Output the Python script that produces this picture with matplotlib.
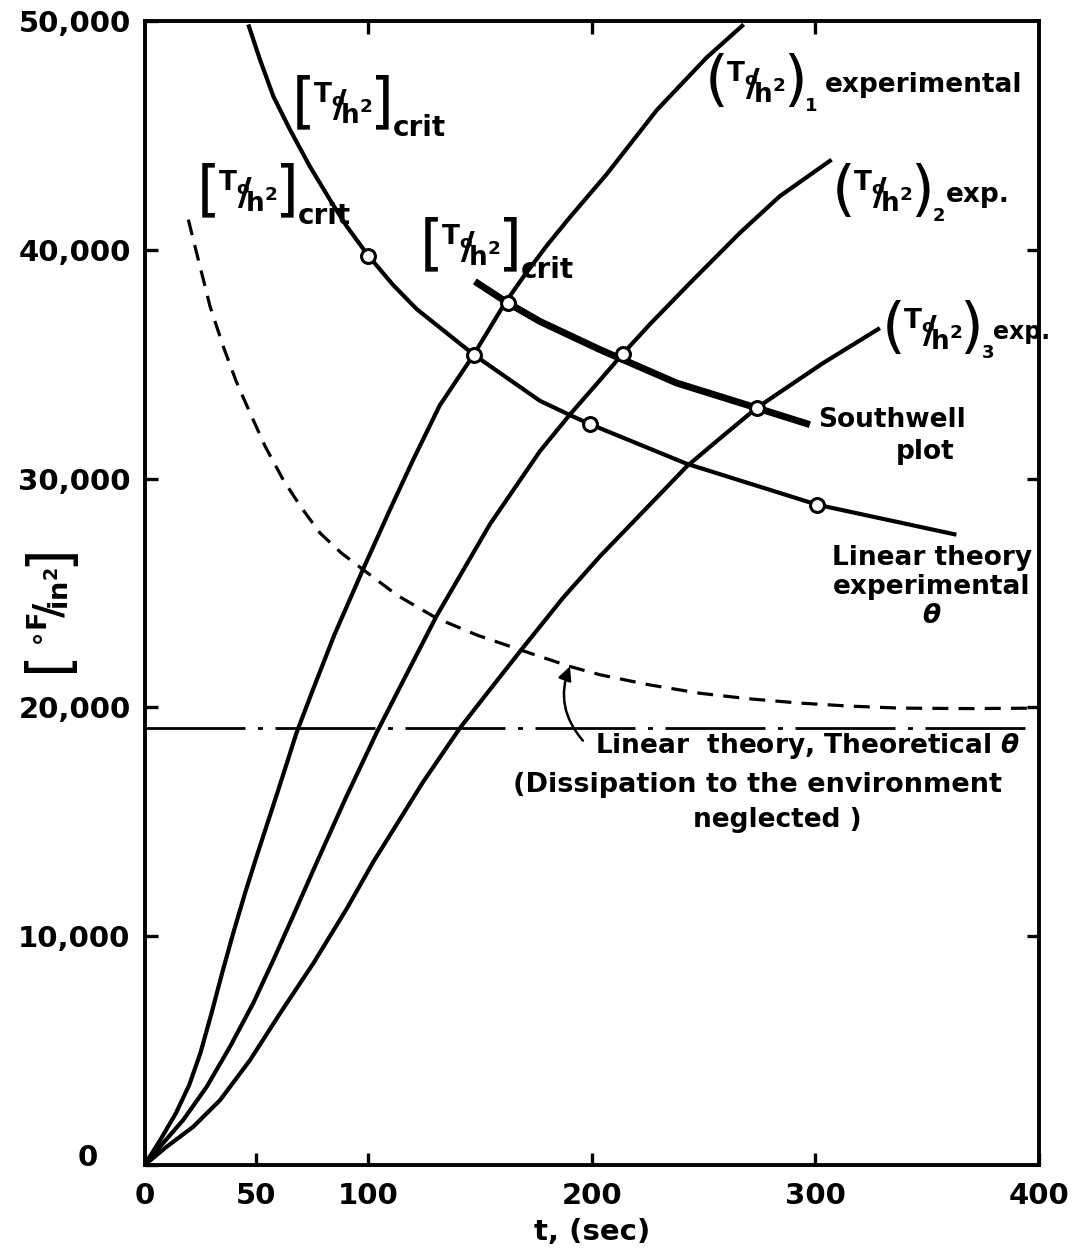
import matplotlib
matplotlib.use("Agg")
import matplotlib.pyplot as plt
from matplotlib.ticker import FuncFormatter

plt.rcParams['font.family'] = ['DejaVu Sans']
plt.rcParams['font.weight'] = 'bold'
plt.rcParams['mathtext.fontset'] = 'custom'
plt.rcParams['mathtext.rm'] = 'DejaVu Sans:bold'
plt.rcParams['mathtext.bf'] = 'DejaVu Sans:bold'
plt.rcParams['mathtext.it'] = 'DejaVu Sans:italic:bold'
plt.rcParams['mathtext.default'] = 'rm'

# (T0/h^2) experimental curves, t in sec, value in deg F / in^2
t_exp1 = [0, 7, 14, 20, 25, 30, 35, 40, 45, 50, 55, 60, 68, 75, 85, 98, 110, 120,
          132, 147.2, 161.2, 170, 180, 190, 206.6, 229, 251.3, 267.9]
v_exp1 = [0, 1090, 2260, 3500, 4900, 6650, 8500, 10250, 11900, 13450, 14950, 16450,
          18900, 20700, 23200, 26100, 28700, 30800, 33200, 35420, 37680, 38900, 40200,
          41400, 43300, 46100, 48400, 49850]

t_exp2 = [0, 6.9, 17.3, 27.8, 38.2, 48.6, 57.6, 66.5, 76.2, 90, 103.8, 112.7, 130.6,
          154.4, 176.8, 190.2, 203.6, 213.8, 226, 243.9, 266.2, 284, 307.2]
v_exp2 = [0, 800, 1970, 3420, 5170, 7070, 8960, 10900, 13050, 16050, 18900, 20600, 24000,
          28000, 31200, 32800, 34300, 35450, 36750, 38550, 40740, 42340, 43940]

t_exp3 = [0, 9.9, 21.8, 33.8, 47.2, 60.6, 75.5, 90.4, 102.3, 124.6, 141, 152.2, 167.9,
          187.2, 203.6, 242.4, 257.2, 273.7, 303.4, 328.8]
v_exp3 = [0, 800, 1675, 2840, 4590, 6630, 8820, 11200, 13250, 16750, 19095, 20500, 22450,
          24800, 26600, 30530, 31750, 33090, 35050, 36580]

# critical value, linear theory with experimental theta
t_lin = [46.4, 51.6, 57.6, 65, 73.9, 84.4, 90.4, 100, 111.2, 121.7, 147.2, 176.8,
         190.2, 199.2, 242.4, 300.8, 363]
v_lin = [49850, 48320, 46710, 45260, 43650, 41950, 41030, 39750, 38460, 37410, 35420,
         33400, 32780, 32380, 30650, 28860, 27550]
t_lin_pts = [100, 147.2, 199.2, 300.8]
v_lin_pts = [39750, 35420, 32380, 28860]

# Southwell plot
t_sw = [147.7, 162.4, 176.8, 203.6, 237.9, 273.7, 297.5]
v_sw = [38620, 37680, 36870, 35640, 34180, 33090, 32360]
t_sw_pts = [162.4, 213.8, 273.7]
v_sw_pts = [37680, 35450, 33090]

# linear theory, theoretical theta
t_dash = [19.6, 21.8, 24.8, 29.3, 35.2, 41, 47.2, 54, 62, 70, 78.5, 88, 97.8, 113,
          130.6, 149, 167.9, 190.2, 203.6, 225, 248.3, 270, 293, 315, 337.7, 370, 399]
v_dash = [41320, 40450, 39280, 37530, 35780, 34250, 32870, 31400, 29950, 28750, 27620,
          26750, 26020, 24900, 23900, 23150, 22520, 21790, 21430, 21000, 20620, 20380,
          20190, 20060, 19970, 19950, 19970]

# dissipation to the environment neglected
v_neglect = 19100

fig = plt.figure(figsize=(10.89, 12.51), dpi=100)
ax = fig.add_axes([0.1327, 0.0687, 0.8215, 0.9145])

lw = 3.0
ax.plot(t_exp1, v_exp1, color='k', lw=lw, solid_capstyle='butt')
ax.plot(t_exp2, v_exp2, color='k', lw=lw, solid_capstyle='butt')
ax.plot(t_exp3, v_exp3, color='k', lw=lw, solid_capstyle='butt')
ax.plot(t_lin, v_lin, color='k', lw=lw, solid_capstyle='butt')
ax.plot(t_sw, v_sw, color='k', lw=5.0, solid_capstyle='butt')
ax.plot(t_dash, v_dash, color='k', lw=2.3, dashes=(5, 3.2))
ax.plot([0, 400], [v_neglect, v_neglect], color='k', lw=2.0, dashes=(36, 4.5, 1.8, 4.5))

ax.plot(t_lin_pts, v_lin_pts, 'o', ms=10, mfc='white', mec='k', mew=2.2, zorder=5)
ax.plot(t_sw_pts, v_sw_pts, 'o', ms=10, mfc='white', mec='k', mew=2.2, zorder=5)

ax.annotate('', xy=(190.2, 21790), xytext=(196.0, 18550),
            arrowprops=dict(arrowstyle='-|>', color='k', lw=1.8, mutation_scale=20,
                            shrinkA=0, shrinkB=0, connectionstyle='arc3,rad=-0.3'))

ax.set_xlim(0, 400)
ax.set_ylim(0, 50000)
for s in ax.spines.values():
    s.set_linewidth(2.8)

ax.set_xticks([0, 50, 100, 200, 300, 400])
ax.set_yticks([0, 10000, 20000, 30000, 40000, 50000])
ax.yaxis.set_major_formatter(FuncFormatter(lambda v, p: '{:,.0f}'.format(v) if v else ''))
ax.tick_params(direction='in', length=9, width=2.4, labelsize=21, pad=10)
ax.tick_params(axis='x', pad=12)
ax.text(-0.064, 0.006, '0', transform=ax.transAxes, fontsize=21, ha='center', va='center')

top = ax.secondary_xaxis('top')
top.set_xticks([100, 200, 300])
top.tick_params(direction='in', length=9, width=2.4, labeltop=False)
right = ax.secondary_yaxis('right')
right.set_yticks([10000, 20000, 30000, 40000])
right.tick_params(direction='in', length=9, width=2.4, labelright=False)

ax.set_xlabel('t, (sec)', fontsize=21, fontweight='bold', labelpad=6)

# y label, built from pieces so the brackets can be drawn tall
yl0 = ax.annotate('[', (-0.107, 0.4306), xycoords='axes fraction', fontsize=42,
                  fontweight='normal', rotation=90, ha='center', va='bottom',
                  annotation_clip=False)
yl1 = ax.annotate(r'${}^{\circ F}\!/\!{}_{in^2}$', (0.5, 1), xycoords=yl0, fontsize=28,
                  rotation=90, ha='center', va='bottom', xytext=(0, 1),
                  textcoords='offset points', annotation_clip=False)
ax.annotate(']', (0.5, 1), xycoords=yl1, fontsize=42, fontweight='normal', rotation=90,
            ha='center', va='bottom', xytext=(0, 1), textcoords='offset points',
            annotation_clip=False)

frac = r'${}^{T_o}\!\!/\!{}_{h^2}$'


def frac_label(t, v, left, right, sub, sub_size, word=None, gap=3, word_size=19):
    b1 = ax.annotate(left, (t, v), xycoords='data', fontsize=44, fontweight='normal',
                     ha='left', va='top')
    m = ax.annotate(frac, (1, 0.5), xycoords=b1, fontsize=27, ha='left', va='center',
                    xytext=(-2, 0), textcoords='offset points')
    b2 = ax.annotate(right, (1, 0.5), xycoords=(m, b1), fontsize=44, fontweight='normal',
                     ha='left', va='center', xytext=(-2, 0), textcoords='offset points')
    s = ax.annotate(sub, (1, 0.1), xycoords=b2, fontsize=sub_size, ha='left', va='center',
                    xytext=(-1, 0), textcoords='offset points')
    if word:
        ax.annotate(word, (1, 0.46), xycoords=(s, b2), fontsize=word_size, ha='left',
                    va='center', xytext=(gap, 0), textcoords='offset points')


frac_label(65.9, 47660, '[', ']', 'crit', 20)
frac_label(23.5, 43810, '[', ']', 'crit', 20)
frac_label(123.2, 41450, '[', ']', 'crit', 20)
frac_label(250.5, 48600, '(', ')', '1', 13, 'experimental', gap=5)
frac_label(307.3, 43800, '(', ')', '2', 13, 'exp.', gap=1)
frac_label(329.5, 37800, '(', ')', '3', 13, 'exp.', gap=-1, word_size=17)

fs = 19
ax.text(301, 32575, 'Southwell', fontsize=fs, va='center')
ax.text(348.9, 31180, 'plot', fontsize=fs, va='center', ha='center')
ax.text(352, 25250, 'Linear theory\nexperimental\n' + r'$\mathit{\theta}$', fontsize=fs,
        va='center', ha='center', linespacing=1.15)
ax.text(201.5, 18320, 'Linear  theory, Theoretical ' + r'$\mathit{\theta}$', fontsize=fs,
        va='center')
ax.text(164.7, 16620, '(Dissipation to the environment', fontsize=fs + 0.5, va='center')
ax.text(283, 15090, 'neglected )', fontsize=fs, va='center', ha='center')

fig.savefig('out.png', dpi=100)
